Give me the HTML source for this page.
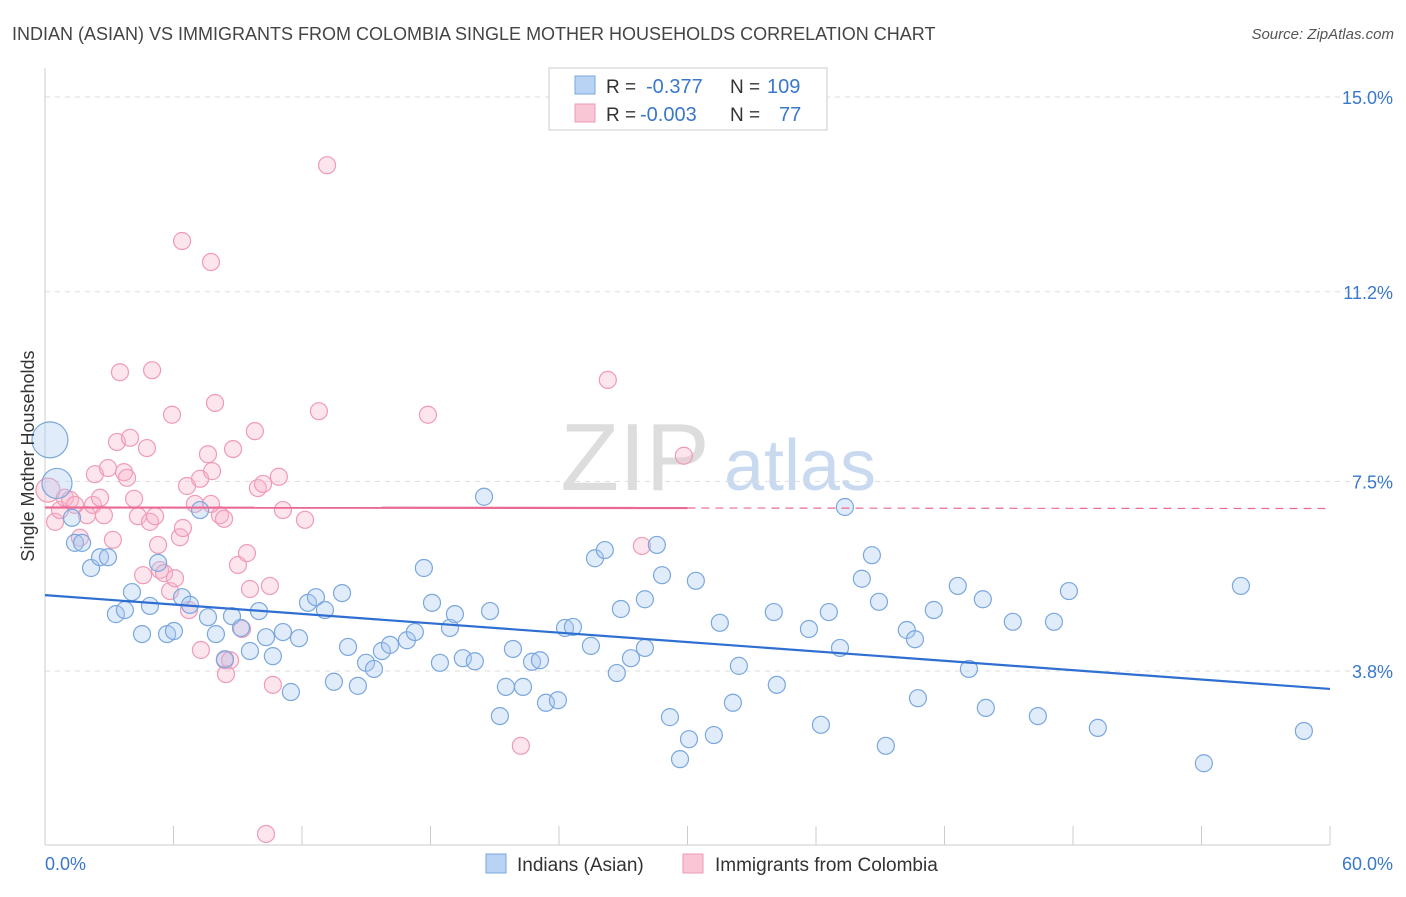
<!DOCTYPE html>
<html><head><meta charset="utf-8"><style>
body{margin:0;background:#fff;font-family:"Liberation Sans",sans-serif;}
svg text{font-family:"Liberation Sans",sans-serif;}
</style></head><body>
<svg id="chart" width="1406" height="892" viewBox="0 0 1406 892" xmlns="http://www.w3.org/2000/svg">
<text x="12" y="40" font-size="18" fill="#444">INDIAN (ASIAN) VS IMMIGRANTS FROM COLOMBIA SINGLE MOTHER HOUSEHOLDS CORRELATION CHART</text>
<text x="1394" y="39" font-size="15" fill="#555" text-anchor="end" font-style="italic">Source: ZipAtlas.com</text>
<g>
<text x="635" y="490" font-size="96" fill="#ddd" text-anchor="middle" font-family="Liberation Serif">ZIP</text>
<text x="800" y="490" font-size="72" fill="#c9daf0" text-anchor="middle">atlas</text>
</g>
<g id="grid"></g>
<g id="axes"></g>
<g id="marks"></g>
<g>
<rect x="549" y="68" width="278" height="62" fill="#fff" stroke="#ccc"/>
<rect x="575" y="76" width="20" height="18" fill="#b8d3f3" stroke="#7aa7dd"/>
<rect x="575" y="104" width="20" height="18" fill="#f9c6d6" stroke="#ee9ab5"/>
<text x="606" y="93" font-size="19" fill="#333">R = </text><text x="646" y="93" font-size="20" fill="#3a78c9">-0.377</text>
<text x="730" y="93" font-size="19" fill="#333">N = </text><text x="767" y="93" font-size="20" fill="#3a78c9">109</text>
<text x="606" y="121" font-size="19" fill="#333">R = </text><text x="640" y="121" font-size="20" fill="#3a78c9">-0.003</text>
<text x="730" y="121" font-size="19" fill="#333">N = </text><text x="779" y="121" font-size="20" fill="#3a78c9">77</text>
</g>
<g>
<rect x="486" y="854" width="20" height="19" fill="#b8d3f3" stroke="#7aa7dd"/>
<text x="517" y="871" font-size="19" fill="#333">Indians (Asian)</text>
<rect x="683" y="854" width="20" height="19" fill="#f9c6d6" stroke="#ee9ab5"/>
<text x="715" y="871" font-size="19" fill="#333">Immigrants from Colombia</text>
</g>
<text transform="translate(34,456) rotate(-90)" font-size="18" fill="#333" text-anchor="middle">Single Mother Households</text>
</svg>
<script>
const yTicks=[15.0,11.2,7.5,3.8];
const yTickLabels=["15.0%","11.2%","7.5%","3.8%"];
const xMin=0,xMax=60,yMin=-0.05,yMax=15.0;
const blueX=[0.23,0.56,1.40,1.73,2.15,2.57,2.94,1.26,4.06,3.31,3.73,4.53,4.90,5.28,5.70,6.02,6.40,6.77,7.24,7.61,7.98,8.40,8.73,9.15,9.57,9.99,10.32,10.64,11.11,11.48,11.86,12.28,12.65,13.07,13.49,13.87,14.15,14.61,14.99,15.36,15.73,16.11,16.90,17.27,17.69,18.07,18.44,18.91,19.14,19.51,20.07,20.50,20.78,21.24,21.52,21.85,22.32,22.74,23.11,23.39,23.95,24.28,24.65,25.49,25.68,26.14,26.70,26.89,27.36,28.01,28.01,28.57,28.81,29.18,29.65,30.07,30.39,31.23,31.51,32.12,32.40,34.17,34.03,35.67,36.23,36.60,37.12,37.35,38.14,38.61,38.94,39.26,40.24,40.62,40.76,41.50,42.62,43.14,43.79,43.93,45.19,46.36,47.11,47.81,49.16,54.11,55.84,58.78];
const blueY=[8.31,7.46,6.30,6.30,5.81,6.02,6.02,6.79,5.34,4.91,4.99,4.52,5.07,5.91,4.52,4.58,5.24,5.09,6.94,4.85,4.52,4.03,4.87,4.64,4.19,4.97,4.46,4.09,4.56,3.39,4.44,5.13,5.24,4.99,3.59,5.32,4.27,3.51,3.96,3.84,4.19,4.31,4.40,4.56,5.81,5.13,3.96,4.64,4.91,4.05,3.99,7.20,4.97,2.92,3.49,4.23,3.49,3.98,4.01,3.18,3.23,4.64,4.66,4.29,6.00,6.16,3.76,5.01,4.05,5.20,4.25,6.26,5.67,2.90,2.08,2.47,5.56,2.55,4.74,3.18,3.90,3.53,4.95,4.62,2.75,4.95,4.25,7.00,5.60,6.06,5.15,2.34,4.60,4.42,3.27,4.99,5.46,3.84,5.20,3.08,4.76,2.92,4.76,5.36,2.69,2.00,5.46,2.63];
const pinkX=[0.14,0.47,0.70,0.93,1.17,1.40,1.63,1.96,2.24,2.57,2.75,2.33,2.94,3.17,3.36,3.50,3.69,3.83,3.97,4.16,4.34,4.58,4.76,4.90,5.00,5.14,5.28,5.37,5.56,5.84,5.93,6.07,6.30,6.44,6.40,6.63,6.72,7.00,7.24,7.28,7.61,7.75,7.80,7.94,8.17,8.36,8.40,8.64,8.78,9.01,9.20,9.43,9.57,9.80,9.94,10.18,10.32,10.50,10.64,10.92,11.11,12.14,12.79,13.17,17.88,26.28,22.22,27.87,29.83,8.45,7.75];
const pinkY=[7.33,6.71,6.94,7.18,7.14,7.04,6.40,6.84,7.04,7.18,6.84,7.64,7.76,6.36,8.27,9.63,7.68,7.57,8.35,7.16,6.82,5.67,8.15,6.71,9.67,6.82,6.26,5.77,5.71,5.36,8.80,5.61,6.41,6.59,12.19,7.41,4.99,7.06,7.55,4.21,8.03,11.78,7.70,9.03,6.84,6.77,4.01,4.01,8.13,5.87,4.62,6.10,5.40,8.48,7.37,7.45,0.62,5.46,3.53,7.59,6.94,6.75,8.87,13.67,8.80,9.48,2.34,6.24,8.00,3.74,7.06];
const blueSizes={0:18,1:15};
const pinkSizes={0:12};
const blueTrend=[5.28,3.45];
const pinkTrend=[6.99,6.97];
const L=45,R=1330,T=97,B=671;
function sx(v){return L+(v-xMin)/(xMax-xMin)*(R-L);}
function sy(v){return T+(15.0-v)/(15.0-3.8)*(B-T);}
const NS="http://www.w3.org/2000/svg";
function mk(tag,attrs,parent){const e=document.createElementNS(NS,tag);for(const k in attrs)e.setAttribute(k,attrs[k]);parent.appendChild(e);return e;}
const grid=document.getElementById('grid'),axes=document.getElementById('axes'),marks=document.getElementById('marks');
yTicks.forEach((t,i)=>{
 const g=mk('line',{x1:L,x2:1394,y1:sy(t),y2:sy(t),stroke:'#ddd','stroke-dasharray':'5,5'},grid);
 
 
 const tx=mk('text',{x:1393,y:sy(t)+7,'font-size':18,fill:'#3a78c9','text-anchor':'end'},axes);
 tx.textContent=yTickLabels[i];
 
 
});
mk('line',{x1:L,x2:L,y1:68,y2:845,stroke:'#ccc'},axes);
mk('line',{x1:L,x2:R,y1:845,y2:845,stroke:'#ccc'},axes);
for(let i=0;i<=10;i++){const x=sx(i*6);const tk=mk('line',{x1:x,x2:x,y1:826,y2:845,stroke:'#ccc'},axes);
 
 }
const x0=mk('text',{x:45,y:870,'font-size':18,fill:'#3a78c9'},axes);x0.textContent='0.0%';


const x1=mk('text',{x:1393,y:870,'font-size':18,fill:'#3a78c9','text-anchor':'end'},axes);x1.textContent='60.0%';


pinkX.forEach((v,i)=>{const c=mk('circle',{cx:sx(v),cy:sy(pinkY[i]),r:pinkSizes[i]||8.5,fill:'rgba(248,180,202,0.35)',stroke:'#ef9bb6','stroke-width':1.2},marks);
 
 });
blueX.forEach((v,i)=>{const c=mk('circle',{cx:sx(v),cy:sy(blueY[i]),r:blueSizes[i]||8.5,fill:'rgba(170,200,240,0.35)',stroke:'#7aa7dd','stroke-width':1.2},marks);
 
 });
const bl=mk('line',{x1:sx(0),y1:sy(blueTrend[0]),x2:sx(60),y2:sy(blueTrend[1]),stroke:'#2f6fd1','stroke-width':2.2},marks);


const pm=pinkTrend[0]+(pinkTrend[1]-pinkTrend[0])*0.5;
const pl=mk('line',{x1:sx(0),y1:sy(pinkTrend[0]),x2:sx(30),y2:sy(pm),stroke:'#ea6a94','stroke-width':2.2},marks);


const pd=mk('line',{x1:sx(30),y1:sy(pm),x2:sx(60),y2:sy(pinkTrend[1]),stroke:'#ea6a94','stroke-width':1.2,'stroke-dasharray':'8,6'},marks);


</script>
</body></html>
